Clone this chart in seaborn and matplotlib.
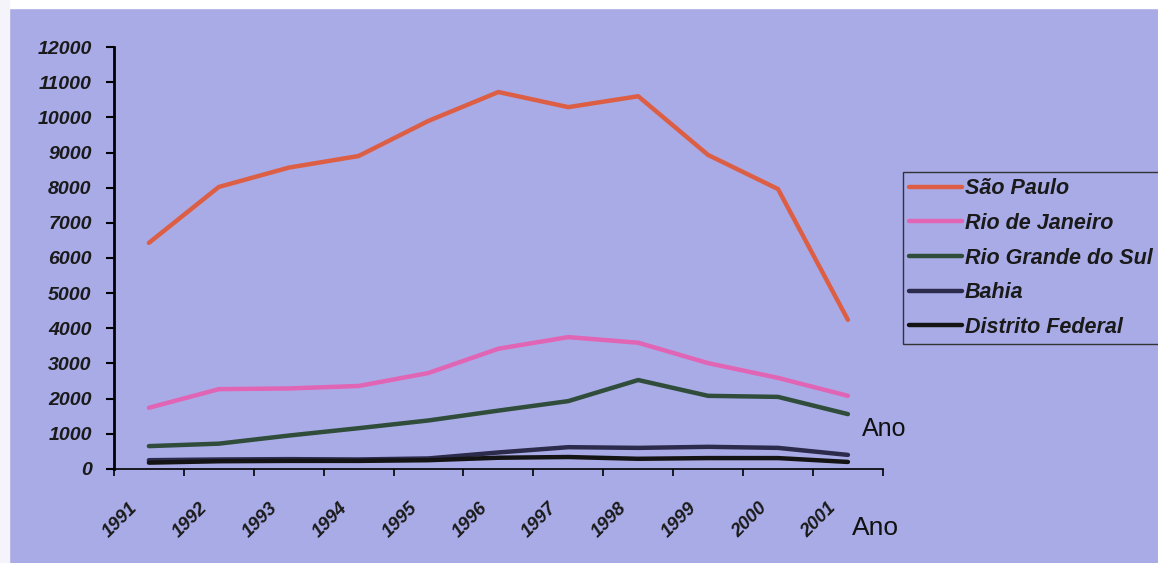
import seaborn as sns
import matplotlib.pyplot as plt
import matplotlib.patches as mpatches
import matplotlib.transforms as mtransforms
import pandas as pd

# Dados
anos = [1991, 1992, 1993, 1994, 1995, 1996, 1997, 1998, 1999, 2000, 2001]
sao_paulo = [6430, 8020, 8570, 8900, 9900, 10720, 10290, 10600, 8930, 7960, 4240]
rio_de_janeiro = [1740, 2270, 2290, 2360, 2730, 3420, 3750, 3590, 3010, 2590, 2080]
rio_grande_do_sul = [650, 720, 950, 1160, 1380, 1660, 1930, 2530, 2080, 2050, 1560]
bahia = [250, 270, 280, 270, 300, 470, 620, 600, 630, 600, 400]
distrito_federal = [180, 220, 230, 230, 250, 320, 340, 290, 310, 310, 200]

estados = ["São Paulo", "Rio de Janeiro", "Rio Grande do Sul", "Bahia", "Distrito Federal"]
cores = ["#dc5f45", "#e065b4", "#2f4d3a", "#2c2b4c", "#141414"]
series = [sao_paulo, rio_de_janeiro, rio_grande_do_sul, bahia, distrito_federal]

df = pd.concat([pd.DataFrame({"Ano": anos, "valor": v, "estado": e})
                for e, v in zip(estados, series)], ignore_index=True)

bg = "#a9abe7"
sns.set_style("ticks")
plt.rcParams['font.family'] = ['Liberation Sans', 'DejaVu Sans']

fig = plt.figure(figsize=(11.58, 5.63), dpi=100, facecolor=bg)
ax = fig.add_axes([0.0984, 0.167, 0.664, 0.7495])
ax.set_facecolor(bg)

sns.lineplot(data=df, x="Ano", y="valor", hue="estado", hue_order=estados,
             palette=dict(zip(estados, cores)), linewidth=3.2, ax=ax)

ax.set_xlim(1990.5, 2001.5)
ax.set_ylim(0, 12000)
ax.set_yticks(range(0, 12001, 1000))
ax.set_yticklabels([str(v) for v in range(0, 12001, 1000)],
                   fontsize=14, fontweight='bold', fontstyle='italic', color='#1a1a1a')
ax.set_xticks([a - 0.5 for a in anos] + [2001.5])
ax.set_xticklabels([])
ax.set_xticks(anos, minor=True)
ax.set_xticklabels([str(a) for a in anos], minor=True, rotation=45,
                   ha='right', va='center', rotation_mode='anchor',
                   fontsize=13.5, fontweight='bold', fontstyle='italic', color='#1a1a1a')
ax.tick_params(axis='x', which='minor', length=0, pad=26)
ax.tick_params(axis='x', which='major', length=5, width=1.2, color='black')
ax.tick_params(axis='y', which='major', length=6, width=1.5, color='black', pad=10)
# desloca os rótulos dos anos um pouco para a esquerda
desloc = mtransforms.ScaledTranslation(-14 / 100, 0, fig.dpi_scale_trans)
for lab in ax.get_xticklabels(minor=True):
    lab.set_transform(lab.get_transform() + desloc)
for s in ["top", "right"]:
    ax.spines[s].set_visible(False)
for s in ["left", "bottom"]:
    ax.spines[s].set_color("black")
ax.spines["left"].set_linewidth(2)
ax.spines["bottom"].set_linewidth(1.2)
ax.set_xlabel("")
ax.set_ylabel("")

leg = ax.legend(loc='upper left', bbox_to_anchor=(0.7798, 0.6945),
                bbox_transform=fig.transFigure, frameon=True, fancybox=False,
                prop={'size': 15.5, 'weight': 'bold', 'style': 'italic'},
                handlelength=2.42, handletextpad=0.15, labelspacing=0.63,
                borderpad=0.3, borderaxespad=0)
leg.get_frame().set_facecolor(bg)
leg.get_frame().set_edgecolor("#333333")
leg.get_frame().set_linewidth(1.0)
leg.get_frame().set_alpha(1)
for t in leg.get_texts():
    t.set_color('#1a1a1a')

fig.text(0.7444, 0.2256, "Ano", fontsize=18, color='#111111')
fig.text(0.7357, 0.050, "Ano", fontsize=19, color='#111111')

# faixas brancas da digitalização
fig.patches.append(mpatches.Rectangle((0, 0.986), 1, 0.014, transform=fig.transFigure,
                                      color="white", zorder=-1))
fig.patches.append(mpatches.Rectangle((0, 0), 0.008, 1, transform=fig.transFigure,
                                      color="#f4f4fa", zorder=-1))

fig.savefig("out.png", dpi=100, facecolor=bg)
